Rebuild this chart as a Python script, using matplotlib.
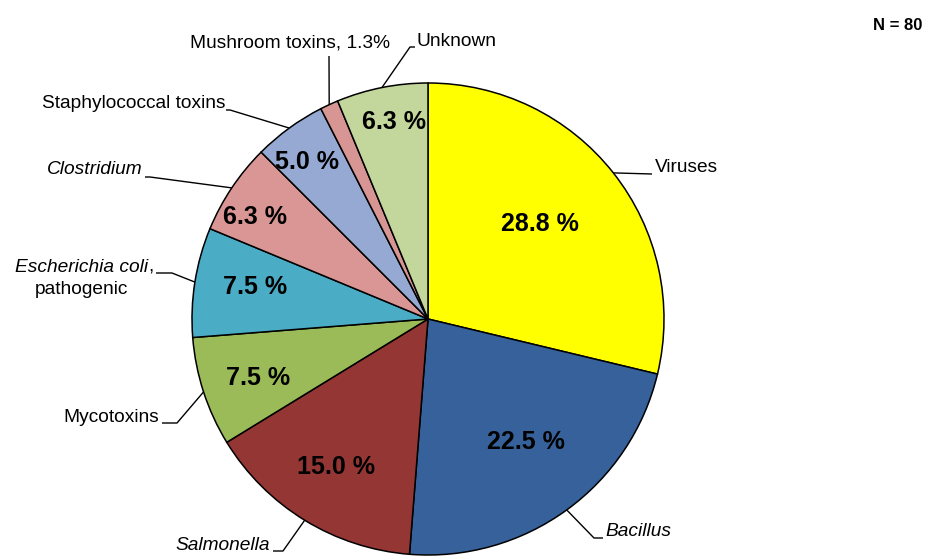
import numpy as np
import matplotlib
matplotlib.use("Agg")
import matplotlib.pyplot as plt

plt.rcParams['font.family'] = ['Liberation Sans', 'DejaVu Sans']

# ---- data ----
categories = ["Viruses", "Bacillus", "Salmonella", "Mycotoxins",
              "Escherichia coli, pathogenic", "Clostridium",
              "Staphylococcal toxins", "Mushroom toxins", "Unknown"]
counts = [23, 18, 12, 6, 6, 5, 4, 1, 5]
pct_labels = ["28.8 %", "22.5 %", "15.0 %", "7.5 %", "7.5 %", "6.3 %", "5.0 %", "1.3%", "6.3 %"]
n_total = "N = 80"

colors = ["#FFFF00", "#36619A", "#943634", "#9BBB59", "#4BACC6",
          "#DA9694", "#95A9D3", "#D79593", "#C3D69B"]

W, H = 936, 559
fig = plt.figure(figsize=(W / 100, H / 100), dpi=100)
ax = fig.add_axes([0, 0, 1, 1])

cx, cy, R = 428, H - 319, 236
wedges, _ = ax.pie(counts, colors=colors, startangle=90, counterclock=False,
                   center=(cx, cy), radius=R, frame=True,
                   wedgeprops=dict(edgecolor='black', linewidth=1.1))
ax.set_xlim(0, W)
ax.set_ylim(0, H)
ax.set_aspect('equal')
ax.axis('off')

def py(y):
    return H - y

def mid_angle(w):
    return np.deg2rad((w.theta1 + w.theta2) / 2)

# percent label positions inside wedges (layout, pixel coords from top-left)
pct_pos = [(540, 224), (526, 442), (336, 467), (258, 378), (255, 287),
           (255, 217), (307, 162), None, (394, 122)]
for lab, pos in zip(pct_labels, pct_pos):
    if pos is None:
        continue
    ax.text(pos[0], py(pos[1]), lab, ha='center', va='center',
            fontsize=18, fontweight='bold')

fs = 13.8
lw = 1.0

def leader(w, pts):
    a = mid_angle(w)
    x0, y0 = cx + R * np.cos(a), cy + R * np.sin(a)
    xs = [x0] + [p[0] for p in pts]
    ys = [y0] + [py(p[1]) for p in pts]
    ax.plot(xs, ys, color='black', lw=lw, solid_capstyle='butt')

# Viruses
leader(wedges[0], [(652, 174)])
ax.text(655, py(167), categories[0], ha='left', va='center', fontsize=fs)
# Bacillus
leader(wedges[1], [(594, 538), (603, 538)])
ax.text(605, py(531), categories[1], ha='left', va='center', fontsize=fs, style='italic')
# Salmonella
leader(wedges[2], [(283, 551), (273, 551)])
ax.text(270, py(546), categories[2], ha='right', va='center', fontsize=fs, style='italic')
# Mycotoxins
leader(wedges[3], [(177, 423), (162, 423)])
ax.text(159, py(417), categories[3], ha='right', va='center', fontsize=fs)
# Escherichia coli, pathogenic
leader(wedges[4], [(172, 273), (156, 273)])
genus, rest = categories[4].split(", ")
ax.text(148, py(267), genus, ha='right', va='center', fontsize=fs, style='italic')
ax.text(148, py(267), ",", ha='left', va='center', fontsize=fs)
ax.text(82, py(290), rest, ha='center', va='center', fontsize=fs)
# Clostridium
leader(wedges[5], [(150, 177), (145, 177)])
ax.text(143, py(170), categories[5], ha='right', va='center', fontsize=fs, style='italic')
# Staphylococcal toxins
leader(wedges[6], [(230, 110), (226, 110)])
ax.text(225, py(104), categories[6], ha='right', va='center', fontsize=fs)
# Mushroom toxins
leader(wedges[7], [(329, 56)])
ax.text(390, py(43), f"{categories[7]}, {pct_labels[7]}", ha='right', va='center', fontsize=fs)
# Unknown
leader(wedges[8], [(410, 47), (415, 47)])
ax.text(417, py(41), categories[8], ha='left', va='center', fontsize=fs)

# N label
ax.text(922, py(25), n_total, ha='right', va='center', fontsize=12, fontweight='bold')

fig.savefig("out.png", dpi=100)
